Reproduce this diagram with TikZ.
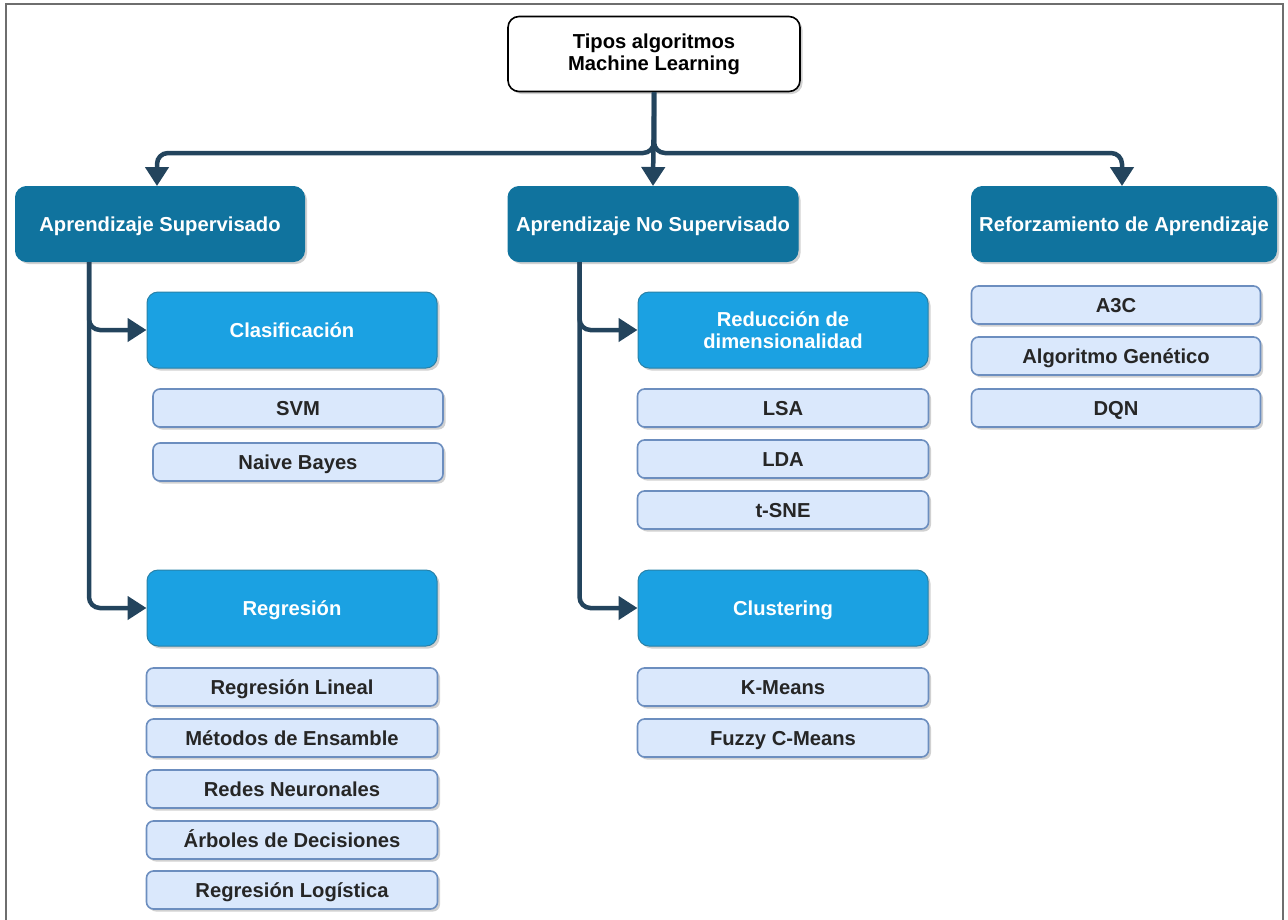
\documentclass[tikz,border=0pt]{standalone}
\usepackage{fontspec}
\setmainfont{Liberation Sans}
\usetikzlibrary{arrows.meta,shadows}
\definecolor{lvlone}{HTML}{10739E}
\definecolor{lvltwo}{HTML}{1BA1E2}
\definecolor{leaffill}{HTML}{DAE8FC}
\definecolor{leafline}{HTML}{6C8EBF}
\definecolor{connc}{HTML}{23445D}
\definecolor{framec}{HTML}{6E6E6E}
\tikzset{
  shad/.style={drop shadow={opacity=0.3,shadow xshift=2.5pt,shadow yshift=-2.5pt,fill=black!60}},
  boxfont/.style={font=\fontsize{20.2}{22}\selectfont\bfseries},
  oneline/.style={text height=14.5pt,text depth=0pt},
  topbox/.style={draw=black,line width=1.6pt,fill=white,rounded corners=11pt,minimum width=292pt,minimum height=75pt,align=center,boxfont,shad},
  onebox/.style={draw=lvlone,line width=1pt,fill=lvlone,rounded corners=11pt,minimum height=75pt,text=white,boxfont,oneline,shad},
  twobox/.style={draw=lvlone!90,line width=1pt,fill=lvltwo,rounded corners=11pt,minimum width=290pt,minimum height=76pt,text=white,align=center,boxfont,shad},
  leafbox/.style={draw=leafline,line width=1.6pt,fill=leaffill,rounded corners=7pt,minimum height=38pt,text=black!85,boxfont,oneline,shad},
  conn/.style={draw=connc,line width=4.5pt,rounded corners=11pt,-{Triangle[length=19pt,width=23pt]}},
}
\begin{document}
\begin{tikzpicture}[x=1pt,y=-1pt]
\useasboundingbox (0,0) rectangle (1288,919);
\draw[framec,line width=2pt] (6,930) -- (6,4) -- (1283,4) -- (1283,930);
% nodes
\node[topbox] (top) at (654,54) {Tipos algoritmos\\Machine Learning};
\node[onebox,minimum width=289pt] (sup) at (160,224) {Aprendizaje Supervisado};
\node[onebox,minimum width=290pt] (nsup) at (653,224) {Aprendizaje No Supervisado};
\node[onebox,minimum width=305pt] (ref) at (1124,224) {Reforzamiento de Aprendizaje};
\node[twobox,oneline] (cla) at (292,330) {Clasificación};
\node[twobox,oneline] (reg) at (292,608) {Regresión};
\node[twobox] (red) at (783,330) {Reducción de\\dimensionalidad};
\node[twobox,oneline] (clu) at (783,608) {Clustering};
\node[leafbox,minimum width=290pt] (svm) at (298,408) {SVM};
\node[leafbox,minimum width=290pt] (nb) at (298,462) {Naive Bayes};
\node[leafbox,minimum width=291pt] (rl) at (292,687) {Regresión Lineal};
\node[leafbox,minimum width=291pt] (me) at (292,738) {Métodos de Ensamble};
\node[leafbox,minimum width=291pt] (rn) at (292,789) {Redes Neuronales};
\node[leafbox,minimum width=291pt] (ad) at (292,840) {Árboles de Decisiones};
\node[leafbox,minimum width=291pt] (rlo) at (292,890) {Regresión Logística};
\node[leafbox,minimum width=291pt] (lsa) at (783,408) {LSA};
\node[leafbox,minimum width=291pt] (lda) at (783,459) {LDA};
\node[leafbox,minimum width=291pt] (tsne) at (783,510) {t-SNE};
\node[leafbox,minimum width=291pt] (km) at (783,687) {K-Means};
\node[leafbox,minimum width=291pt] (fcm) at (783,738) {Fuzzy C-Means};
\node[leafbox,minimum width=289pt] (a3c) at (1116,305) {A3C};
\node[leafbox,minimum width=289pt] (ag) at (1116,356) {Algoritmo Genético};
\node[leafbox,minimum width=289pt] (dqn) at (1116,408) {DQN};
% connectors
\coordinate (bus) at (654,153);
\draw[conn] (top.south) -- (nsup.north);
\draw[conn] (top.south) -- (bus) -| ([xshift=-3pt]sup.north);
\draw[conn] (top.south) -- (bus) -| ([xshift=-2pt]ref.north);
\path (sup.south west) ++(74,0) coordinate (ts);
\draw[conn] (ts) |- (cla.west);
\draw[conn] (ts) |- (reg.west);
\path (nsup.south west) ++(72,0) coordinate (tn);
\draw[conn] (tn) |- (red.west);
\draw[conn] (tn) |- (clu.west);
\end{tikzpicture}
\end{document}
